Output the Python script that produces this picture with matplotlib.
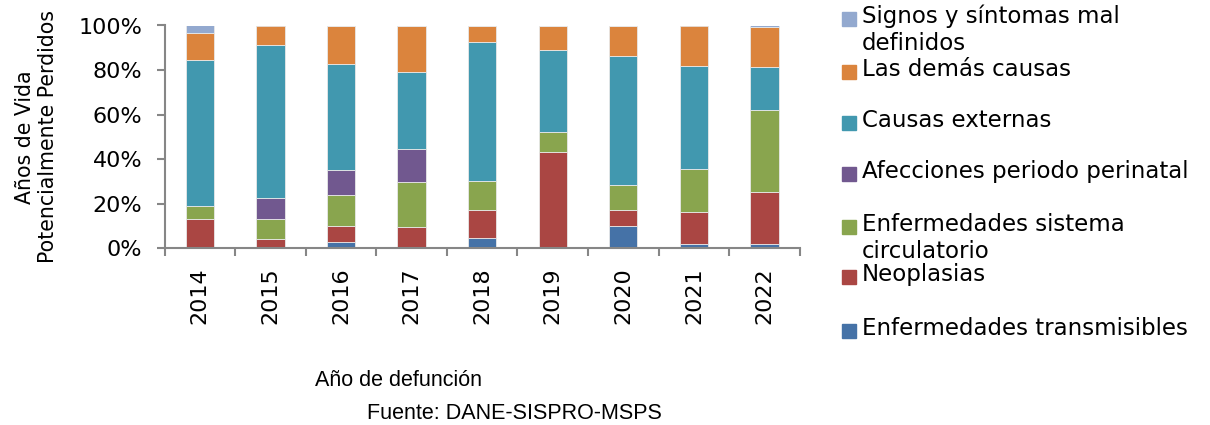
import numpy as np
import matplotlib
matplotlib.use("Agg")
from matplotlib import pyplot as plt
from matplotlib.patches import Rectangle

years = ["2014", "2015", "2016", "2017", "2018", "2019", "2020", "2021", "2022"]

# porcentajes por grupo de causa (de abajo hacia arriba)
transmisibles = [0.0, 0.0, 3.0, 0.0, 4.6, 0.0, 10.0, 1.8, 2.1]
neoplasias = [13.0, 4.3, 6.9, 9.4, 12.6, 43.1, 7.1, 14.4, 23.1]
circulatorio = [6.1, 9.0, 14.0, 20.4, 13.0, 9.0, 11.2, 19.3, 36.8]
perinatal = [0.0, 9.2, 11.3, 14.7, 0.0, 0.0, 0.0, 0.0, 0.0]
externas = [65.2, 68.7, 47.5, 34.6, 62.2, 37.1, 58.0, 46.3, 19.3]
demas = [12.3, 8.8, 17.3, 20.9, 7.6, 10.8, 13.7, 18.2, 18.0]
signos = [3.4, 0.0, 0.0, 0.0, 0.0, 0.0, 0.0, 0.0, 0.7]

labels = ["Enfermedades transmisibles", "Neoplasias",
          "Enfermedades sistema\ncirculatorio", "Afecciones periodo perinatal",
          "Causas externas", "Las demás causas", "Signos y síntomas mal\ndefinidos"]
colors = ["#4572A7", "#AA4643", "#89A54E", "#71588F", "#4198AF", "#DB843D", "#93A9CF"]

series = [transmisibles, neoplasias, circulatorio, perinatal, externas, demas, signos]

plt.rcParams['font.family'] = ['DejaVu Sans']

fig = plt.figure(figsize=(12.1, 4.25), dpi=100)
ax = fig.add_axes([0.136, 0.416, 0.525, 0.524])

x = np.arange(len(years))
bottom = np.zeros(len(years))
for vals, c in zip(series, colors):
    vals = np.array(vals)
    ax.bar(x, vals, 0.4, bottom=bottom, color=c, edgecolor="#e8e8e8", linewidth=0.6)
    bottom += vals

ax.set_xlim(-0.5, len(years) - 0.5)
ax.set_ylim(0, 100)
ax.set_yticks([0, 20, 40, 60, 80, 100])
ax.set_yticklabels(["0%", "20%", "40%", "60%", "80%", "100%"], fontsize=16)
ax.set_xticks(x)
ax.set_xticklabels(years, rotation=90, fontsize=16)
ax.set_xticks(np.arange(len(years) + 1) - 0.5, minor=True)
ax.tick_params(axis="x", which="major", length=0, pad=14)
ax.tick_params(axis="x", which="minor", length=6, width=1.5, color="#868686")
ax.tick_params(axis="y", length=6, width=1.5, color="#868686", pad=10)

for s in ["top", "right"]:
    ax.spines[s].set_visible(False)
for s in ["left", "bottom"]:
    ax.spines[s].set_color("#868686")
    ax.spines[s].set_linewidth(1.5)

ax.set_ylabel("Años de Vida\nPotencialmente Perdidos", fontsize=14.8, linespacing=1.15)
ax.yaxis.set_label_coords(-0.168, 0.5)

fig.text(0.329, 0.105, "Año de defunción", fontsize=15.5, ha="center", va="center",
         family="Liberation Sans")
fig.text(0.425, 0.027, "Fuente: DANE-SISPRO-MSPS", fontsize=15.5, ha="center", va="center",
         family="Liberation Sans")

# leyenda manual (orden inverso, como en el original); y = borde superior de mayusculas
leg_y = [322, 268, 218, 165, 114, 63, 10]
W, H = 1210.0, 425.0
for lab, c, yy in zip(labels, colors, leg_y):
    fig.patches.append(Rectangle((842 / W, 1 - (yy + 16) / H), 14 / W, 14 / H,
                                 transform=fig.transFigure, color=c, figure=fig))
    fig.text(862 / W, 1 - (yy - 5) / H, lab, fontsize=16.5, ha="left", va="top",
             linespacing=1.2)

fig.savefig("out.png", dpi=100)
